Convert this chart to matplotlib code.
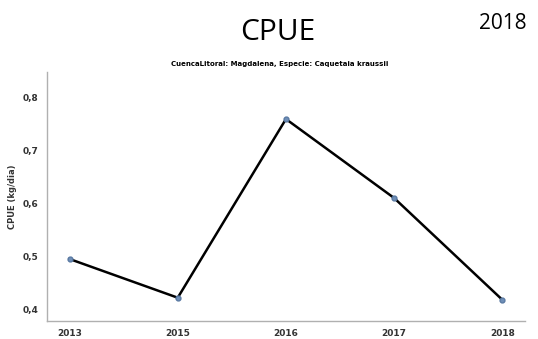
import matplotlib.pyplot as plt

# CPUE por año
years = ['2013', '2015', '2016', '2017', '2018']
cpue = [0.496, 0.423, 0.760, 0.611, 0.419]
yticks = [0.4, 0.5, 0.6, 0.7, 0.8]
ytick_labels = ['0,4', '0,5', '0,6', '0,7', '0,8']

fig = plt.figure(figsize=(5.38, 3.39), dpi=100)
ax = fig.add_axes([0.087, 0.053, 0.889, 0.735])

x = list(range(len(years)))
ax.plot(x, cpue, color='black', linewidth=1.8, zorder=2)
ax.plot(x, cpue, linestyle='none', marker='o', markersize=3.5,
        markerfacecolor='#6f8fb8', markeredgecolor='#5a7aa3', zorder=3)

ax.set_xlim(-0.21, 4.21)
ax.set_ylim(0.379, 0.849)
ax.set_xticks(x)
ax.set_xticklabels(years, fontsize=6.5, fontweight='bold', color='#333333')
ax.set_yticks(yticks)
ax.set_yticklabels(ytick_labels, fontsize=6.5, fontweight='bold', color='#333333')
ax.tick_params(length=0, pad=6)
ax.set_ylabel('CPUE (kg/dia)', fontsize=6, fontweight='bold', color='#333333', labelpad=4)

for side in ['top', 'right']:
    ax.spines[side].set_visible(False)
for side in ['left', 'bottom']:
    ax.spines[side].set_color('#b0b0b0')
    ax.spines[side].set_linewidth(1.0)

fig.text(0.517, 0.905, 'CPUE', ha='center', va='center',
         fontsize=21.5, family='Open Sans')
fig.text(0.935, 0.93, '2018', ha='center', va='center',
         fontsize=15, family='Open Sans')
fig.text(0.52, 0.812, 'CuencaLitoral: Magdalena, Especie: Caquetaia kraussii',
         ha='center', va='center', fontsize=5, fontweight='bold')

fig.savefig('out.png', dpi=100)
